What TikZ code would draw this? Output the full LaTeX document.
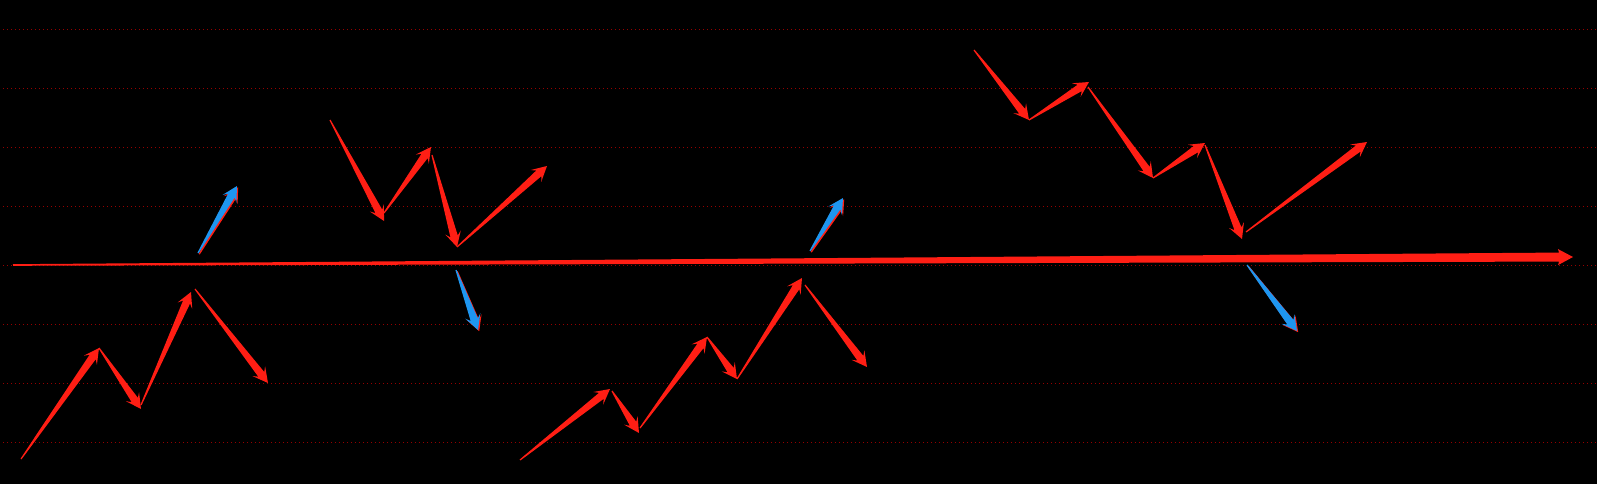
\documentclass[tikz,border=0pt]{standalone}
\usetikzlibrary{calc}

\definecolor{trendred}{RGB}{255,30,20}
\definecolor{signalblue}{RGB}{30,150,240}
\definecolor{griddark}{RGB}{150,0,0}

\tikzset{
  trend/.style={fill=trendred},
  signal/.style={fill=signalblue},
  griddots/.style={draw=griddark, line width=1pt, dash pattern=on 1pt off 3pt},
}

% tapered arrow: thin tail, wide shaft end, swept head
\newcommand\trendarrow[3][trend]{%
  \coordinate (ta-n) at ($(#3)!11pt!(#2)$);
  \coordinate (ta-h) at ($(#3)!15pt!(#2)$);
  \fill[#1] ($(#2)!0.6pt!90:(#3)$) -- ($(ta-n)!3.8pt!90:(#3)$) -- ($(ta-h)!8pt!90:(#3)$)
    -- (#3) -- ($(ta-h)!8pt!-90:(#3)$) -- ($(ta-n)!3.8pt!-90:(#3)$)
    -- ($(#2)!0.6pt!-90:(#3)$) -- cycle;}

% blue arrow over a red copy
\newcommand\signalarrow[2]{%
  \coordinate (sa-a) at ($(#1)+(1.2,1.2)$);
  \coordinate (sa-b) at ($(#2)+(1.2,1.2)$);
  \trendarrow{sa-a}{sa-b}
  \trendarrow[signal]{#1}{#2}}

\begin{document}
\begin{tikzpicture}[x=1pt, y=-1pt]
  \fill[black] (0,0) rectangle (1597,484);
  \useasboundingbox (0,0) rectangle (1597,484);

  \foreach \k in {0,...,7}
    \draw[griddots] (3, 30+\k*58.9) -- (1597, 30+\k*58.9);

  % main level
  \coordinate (m0) at (13,265);
  \coordinate (m1) at (1573,257);
  \coordinate (mn) at ($(m1)!14pt!(m0)$);
  \coordinate (mh) at ($(m1)!15pt!(m0)$);
  \fill[trend] ($(m0)!0.8pt!90:(m1)$) -- ($(mn)!4.5pt!90:(m1)$) -- ($(mh)!8pt!90:(m1)$)
    -- (m1) -- ($(mh)!8pt!-90:(m1)$) -- ($(mn)!4.5pt!-90:(m1)$)
    -- ($(m0)!0.8pt!-90:(m1)$) -- cycle;

  % first wave
  \coordinate (a0) at (21,459);
  \coordinate (a1) at (99,348);
  \coordinate (a2) at (141,409);
  \coordinate (a2t) at (141,405);
  \coordinate (a3) at (191,292);
  \coordinate (a3t) at (195,289);
  \coordinate (a4) at (268,383);
  \coordinate (as0) at (198,253);
  \coordinate (as1) at (237,186);
  \trendarrow{a0}{a1}
  \trendarrow{a1}{a2}
  \trendarrow{a2t}{a3}
  \trendarrow{a3t}{a4}
  \signalarrow{as0}{as1}

  % second wave
  \coordinate (b0) at (330,120);
  \coordinate (b1) at (384,221);
  \coordinate (b1t) at (384,213);
  \coordinate (b2) at (431,147);
  \coordinate (b2t) at (432,155);
  \coordinate (b3) at (457,247);
  \coordinate (b4) at (547,166);
  \coordinate (bs0) at (456,270);
  \coordinate (bs1) at (478,330);
  \trendarrow{b0}{b1}
  \trendarrow{b1t}{b2}
  \trendarrow{b2t}{b3}
  \trendarrow{b3}{b4}
  \signalarrow{bs0}{bs1}

  % third wave
  \coordinate (c0) at (520,460);
  \coordinate (c1) at (610,389);
  \coordinate (c1t) at (612,391);
  \coordinate (c2) at (639,433);
  \coordinate (c2t) at (640,428);
  \coordinate (c3) at (707,337);
  \coordinate (c4) at (737,379);
  \coordinate (c5) at (802,278);
  \coordinate (c5t) at (805,285);
  \coordinate (c6) at (867,367);
  \coordinate (cs0) at (810,251);
  \coordinate (cs1) at (843,198);
  \trendarrow{c0}{c1}
  \trendarrow{c1t}{c2}
  \trendarrow{c2t}{c3}
  \trendarrow{c3}{c4}
  \trendarrow{c4}{c5}
  \trendarrow{c5t}{c6}
  \signalarrow{cs0}{cs1}

  % fourth wave
  \coordinate (d0) at (974,50);
  \coordinate (d1) at (1029,120);
  \coordinate (d2) at (1089,82);
  \coordinate (d2t) at (1088,87);
  \coordinate (d3) at (1153,178);
  \coordinate (d4) at (1205,143);
  \coordinate (d4t) at (1205,145);
  \coordinate (d5) at (1242,239);
  \coordinate (d5t) at (1246,232);
  \coordinate (d6) at (1367,142);
  \coordinate (ds0) at (1247,265);
  \coordinate (ds1) at (1297,331);
  \trendarrow{d0}{d1}
  \trendarrow{d1}{d2}
  \trendarrow{d2t}{d3}
  \trendarrow{d3}{d4}
  \trendarrow{d4t}{d5}
  \trendarrow{d5t}{d6}
  \signalarrow{ds0}{ds1}
\end{tikzpicture}
\end{document}
